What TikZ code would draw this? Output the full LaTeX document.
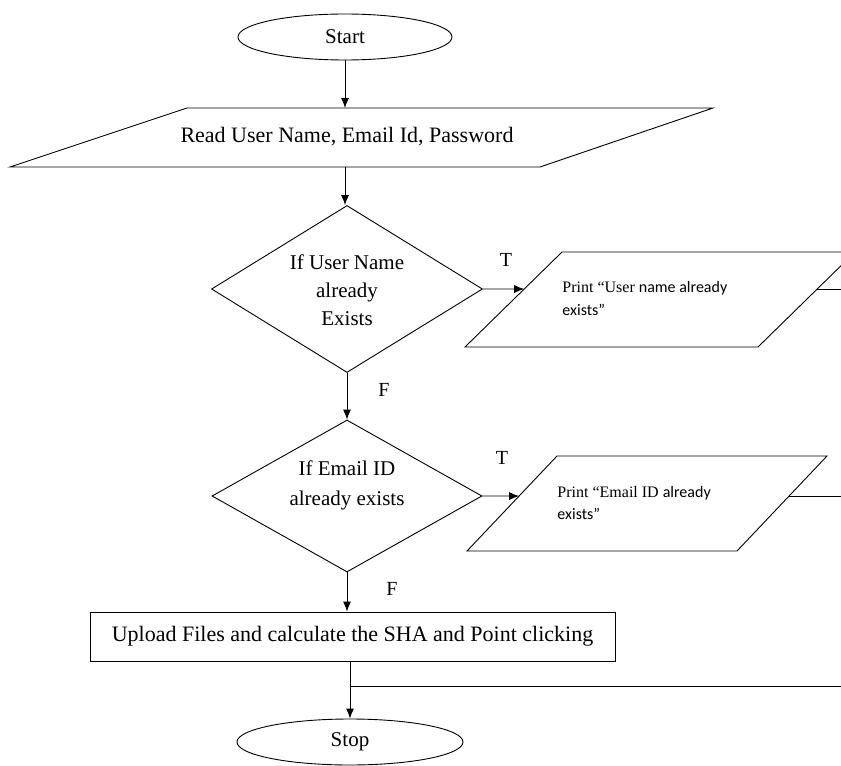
\documentclass[tikz,border=0pt]{standalone}
\usepackage{fontspec}
\setmainfont{Liberation Serif}
\newfontfamily\smallsans{Carlito}
\usetikzlibrary{shapes.geometric,arrows.meta,calc}
\begin{document}
\begin{tikzpicture}[x=1bp,y=-1bp,
  line width=0.9bp,
  arr/.style={-{Latex[length=10bp,width=8bp]}},
  term/.style={draw,ellipse,minimum width=214bp,minimum height=46bp,inner sep=0pt,font=\fontsize{21bp}{24bp}\selectfont},
  decide/.style={draw,diamond,inner sep=0pt},
  dtext/.style={align=center,inner sep=0pt,font=\fontsize{21bp}{28bp}\selectfont},
  procbox/.style={draw,rectangle,minimum width=525bp,minimum height=49bp,inner sep=0pt,font=\fontsize{22bp}{24bp}\selectfont},
  maintext/.style={font=\fontsize{22bp}{24bp}\selectfont},
  smalltext/.style={align=left,anchor=west,inner sep=0pt,font=\fontsize{16bp}{23bp}\selectfont},
  tf/.style={font=\fontsize{20bp}{22bp}\selectfont,inner sep=0pt}]
\useasboundingbox (0,0) rectangle (841,766);
\clip (0,0) rectangle (841,766);

% start
\node[term] (start) at (345,37) {Start};

% read parallelogram
\coordinate (r1tl) at (187,108);
\coordinate (r1tr) at (713,108);
\coordinate (r1br) at (540,167);
\coordinate (r1bl) at (10,167);
\draw (r1tl) -- (r1tr) -- (r1br) -- (r1bl) -- cycle;
\node[maintext] (read) at (347,137) {Read User Name, Email Id, Password};
\coordinate (r1n) at (345,108);
\coordinate (r1s) at (345,167);

% decision 1
\node[decide,minimum width=271bp,minimum height=167bp] (d1) at (347,289) {};
\node[dtext] (d1t) at (347,290) {If User Name\\already\\Exists};

% print 1 parallelogram
\coordinate (p1tl) at (562,252);
\coordinate (p1tr) at (855,252);
\coordinate (p1br) at (758,347);
\coordinate (p1bl) at (465,347);
\draw (p1tl) -- (p1tr) -- (p1br) -- (p1bl) -- cycle;
\node[smalltext] (p1) at (562,299) {Print “User {\smallsans name already}\\{\smallsans exists”}};
\coordinate (p1in) at (intersection of d1.east--{$(d1.east)+(100,0)$} and p1bl--p1tl);
\coordinate (p1out) at (intersection of p1br--p1tr and {$(d1.east)+(300,0)$}--{$(d1.east)+(400,0)$});
\coordinate (p1end) at (p1out -| 841,0);

% decision 2
\node[decide,minimum width=270bp,minimum height=152bp] (d2) at (347,496) {};
\node[dtext,font=\fontsize{21bp}{30bp}\selectfont] (d2t) at (347,485) {If Email ID\\already exists};

% print 2 parallelogram
\coordinate (p2tl) at (557,456);
\coordinate (p2tr) at (827,456);
\coordinate (p2br) at (737,551);
\coordinate (p2bl) at (467,551);
\draw (p2tl) -- (p2tr) -- (p2br) -- (p2bl) -- cycle;
\node[smalltext,font=\fontsize{16bp}{22bp}\selectfont] (p2) at (557,503) {Print “Email ID {\smallsans already}\\{\smallsans exists”}};
\coordinate (p2in) at (intersection of d2.east--{$(d2.east)+(100,0)$} and p2bl--p2tl);
\coordinate (p2out) at (intersection of p2br--p2tr and {$(d2.east)+(250,0)$}--{$(d2.east)+(400,0)$});
\coordinate (p2end) at (p2out -| 841,0);

% process box
\node[procbox] (proc) at (352.5,636.5) {Upload Files and calculate the SHA and Point clicking};

% stop
\node[term,minimum width=226bp] (stop) at (350,742) {Stop};

% connectors
\draw[arr] (start) -- (r1n);
\draw[arr] (r1s) -- (r1s |- d1.north);
\draw[arr] (d1.east) -- (p1in);
\draw (p1out) -- (p1end);
\draw[arr] (d1.south) -- (d2.north);
\draw[arr] (d2.east) -- (p2in);
\draw (p2out) -- (p2end);
\draw[arr] (d2.south) -- (d2.south |- proc.north);
\coordinate (procout) at (proc.south -| stop);
\coordinate (join) at (350,686);
\coordinate (joinend) at (841,686);
\draw[arr] (procout) -- (stop);
\draw (join) -- (joinend);

% labels
\node[tf] (t1) at (506,260) {T};
\node[tf] (t2) at (502,458) {T};
\node[tf] (f1) at (384,390) {F};
\node[tf] (f2) at (392,589) {F};
\end{tikzpicture}
\end{document}
